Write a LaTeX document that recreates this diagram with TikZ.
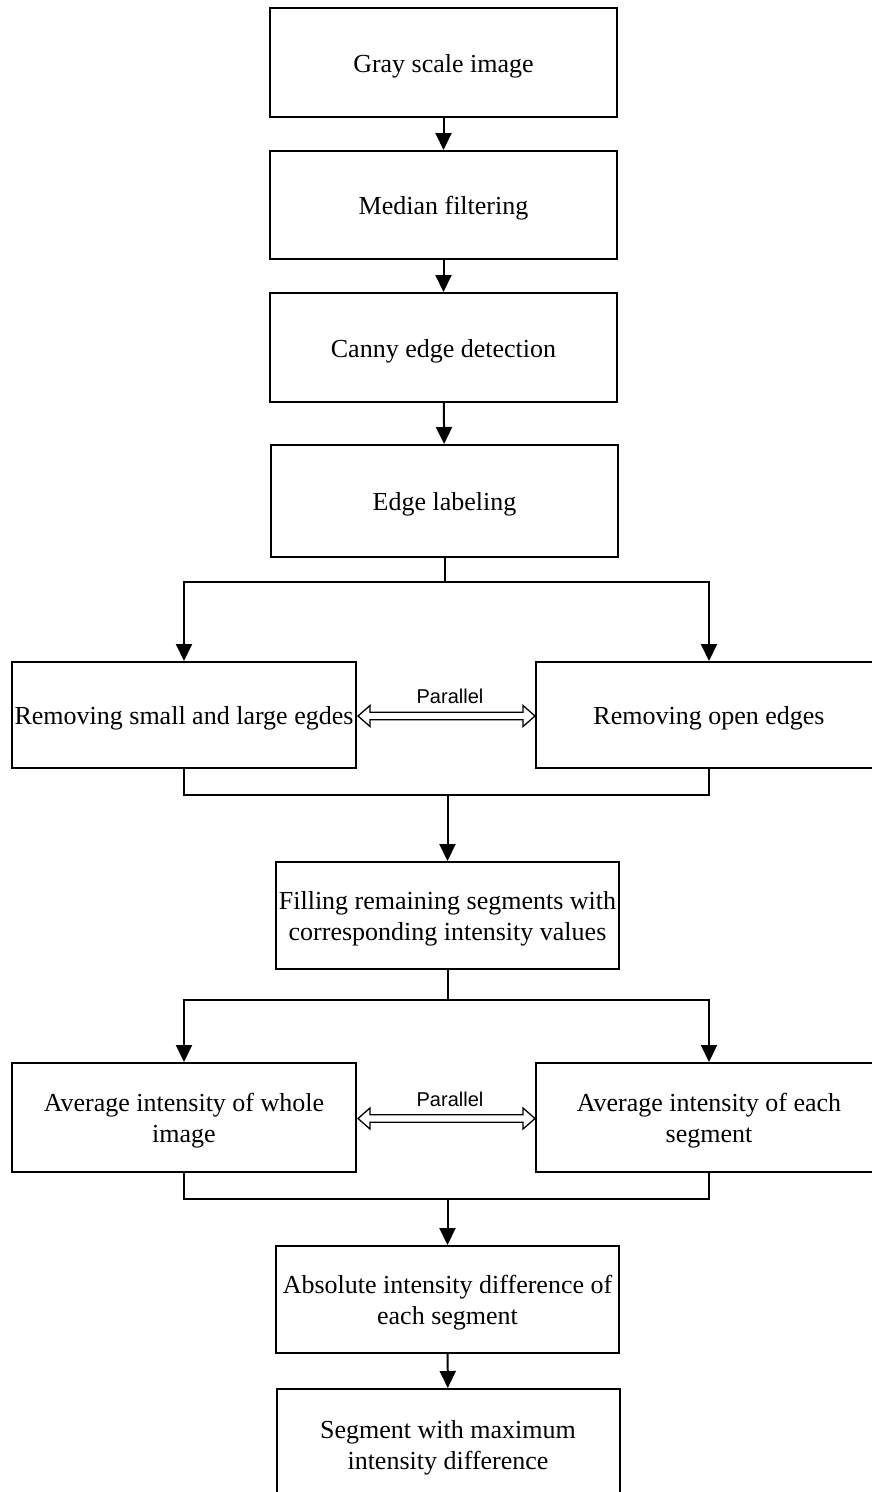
\documentclass[tikz,border=0pt]{standalone}
\usepackage{fontspec}
\setmainfont{Liberation Serif}
\newfontfamily\labelsans{Liberation Sans}
\usetikzlibrary{arrows.meta,calc}
\begin{document}
\begin{tikzpicture}[x=1pt,y=-1pt,
  box/.style={draw, line width=2pt, inner sep=0pt, align=center,
              font=\fontsize{26}{31}\selectfont,
              execute at begin node={\rule{0pt}{25pt}}},
  twoline/.style={box, execute at begin node={\rule{0pt}{56pt}}},
  flow/.style={line width=2pt},
  arr/.style={flow, -{Triangle[length=17pt,width=16pt]}},
  twin/.style={line width=1.3pt, line join=miter},
  tag/.style={font=\labelsans\fontsize{20}{23}\selectfont, inner sep=0pt}]
\useasboundingbox (0,0) rectangle (872,1492);
\clip (0,0) rectangle (872,1492);

% main column
\node[box, minimum width=347pt, minimum height=109pt] (gray)   at (443.5,62.5) {Gray scale image};
\node[box, minimum width=347pt, minimum height=108pt] (median) at (443.5,205)  {Median filtering};
\node[box, minimum width=347pt, minimum height=109pt] (canny)  at (443.5,347.5) {Canny edge detection};
\node[box, minimum width=347pt, minimum height=112pt] (label)  at (444.5,501)  {Edge labeling};

% first parallel pair
\node[box, minimum width=344pt, minimum height=106pt] (small) at (184,715) {Removing small and large egdes};
\node[box, minimum width=346pt, minimum height=106pt] (open)  at (709,715) {Removing open edges};

\node[twoline, minimum width=343pt, minimum height=107pt] (fill) at (447.5,915.5)
  {Filling remaining segments with\\corresponding intensity values};

% second parallel pair
\node[twoline, minimum width=344pt, minimum height=109pt] (avgimg) at (184,1117.5)
  {Average intensity of whole\\image};
\node[twoline, minimum width=346pt, minimum height=109pt] (avgseg) at (709,1117.5)
  {Average intensity of each\\segment};

\node[twoline, minimum width=343pt, minimum height=107pt] (absdiff) at (447.5,1299.5)
  {Absolute intensity difference of\\each segment};
\node[twoline, minimum width=343pt, minimum height=110pt] (maxdiff) at (448,1444)
  {Segment with maximum\\intensity difference};

% straight arrows
\draw[arr] (gray)   -- (median);
\draw[arr] (median) -- (canny);
\draw[arr] (canny)  -- (label);

% split after labeling
\coordinate (split1) at (444.5,582);
\draw[flow] (label.south) -- (split1);
\draw[arr] (split1) -| (small.north);
\draw[arr] (split1) -| (open.north);

% join into filling
\coordinate (join1) at (447.5,795);
\draw[flow] (small.south) -- (small.south |- join1) -- (open.south |- join1) -- (open.south);
\draw[arr] (join1) -- (fill.north);

% split after filling
\coordinate (split2) at (447.5,1000);
\draw[flow] (fill.south) -- (split2);
\draw[arr] (split2) -| (avgimg.north);
\draw[arr] (split2) -| (avgseg.north);

% join into absolute difference
\coordinate (join2) at (447.5,1199);
\draw[flow] (avgimg.south) -- (avgimg.south |- join2) -- (avgseg.south |- join2) -- (avgseg.south);
\draw[arr] (join2) -- (absdiff.north);
\draw[arr] (absdiff) -- (maxdiff);

% hollow two-headed "Parallel" arrows
\foreach \a/\b in {small/open, avgimg/avgseg}{
  \draw[twin] ($(\a.east)+(1,1)$) -- ++(12,-10.5) -- ++(0,6.7)
    -- ($(\b.west)+(-12,-2.8)$) -- ++(0,-6.7) -- ($(\b.west)+(0,1)$)
    -- ++(-12,10.5) -- ++(0,-6.7) -- ($(\a.east)+(13,4.8)$) -- ++(0,6.7) -- cycle;
  \node[tag, anchor=south] at ($(\a.east)!0.5!(\b.west)+(4,-11)$) {Parallel};
}
\end{tikzpicture}
\end{document}
